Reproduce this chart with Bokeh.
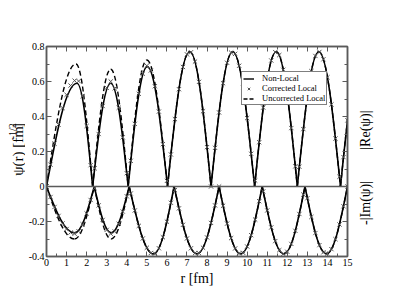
import math
from bokeh.plotting import figure
from bokeh.layouts import row
from bokeh.models import (Range1d, LinearAxis, FixedTicker, Span,
                          Legend, LegendItem, ColumnDataSource)
from bokeh.core.properties import value
from bokeh.embed import file_html
from bokeh.resources import INLINE

# ---------------- data ----------------
x_ticks = list(range(0, 16))
x_tick_labels = [str(i) for i in x_ticks]
x_minor = [i + 0.5 for i in range(15)]
y_ticks = [-0.4, -0.2, 0, 0.2, 0.4, 0.6, 0.8]
y_tick_labels = ["-0.4", "-0.2", "0", "0.2", "0.4", "0.6", "0.8"]
y_minor = [-0.3, -0.1, 0.1, 0.3, 0.5, 0.7]

# |Re(psi)| humps: nodes, peak positions, peak heights
re_nodes = [0.0, 2.30, 4.07, 6.03, 8.20, 10.37, 12.50, 14.65, 16.80]
re_peak_r = [1.52, 3.20, 5.02, 7.14, 9.28, 11.45, 13.57, 15.72]
re_peak_nonlocal = [0.59, 0.59, 0.685, 0.77, 0.77, 0.77, 0.77, 0.77]
re_peak_r_uncorr = [1.47, 3.20, 5.00, 7.14, 9.28, 11.45, 13.57, 15.72]
re_peak_uncorr = [0.70, 0.67, 0.723, 0.77, 0.77, 0.77, 0.77, 0.77]

# -|Im(psi)| humps
im_nodes = [0.0, 2.38, 4.12, 6.36, 8.60, 10.75, 12.88, 15.00]
im_peak_r = [1.40, 3.22, 5.33, 7.50, 9.68, 11.83, 13.95]
im_peak_nonlocal = [0.265, 0.265, 0.385, 0.385, 0.385, 0.385, 0.385]
im_peak_uncorr = [0.30, 0.30, 0.385, 0.385, 0.385, 0.385, 0.385]

# Corrected local (markers)
r_corr = [0.0, 0.2, 0.4, 0.6, 0.8, 1.0, 1.2, 1.4, 1.6, 1.8, 2.0, 2.2, 2.4, 2.6,
          2.8, 3.0, 3.2, 3.4, 3.6, 3.8, 4.0, 4.2, 4.4, 4.6, 4.8, 5.0, 5.2, 5.4,
          5.6, 5.8, 6.0, 6.2, 6.4, 6.6, 6.8, 7.0, 7.2, 7.4, 7.6, 7.8, 8.0, 8.2,
          8.4, 8.6, 8.8, 9.0, 9.2, 9.4, 9.6, 9.8, 10.0, 10.2, 10.4, 10.6, 10.8,
          11.0, 11.2, 11.4, 11.6, 11.8, 12.0, 12.2, 12.4, 12.6, 12.8, 13.0,
          13.2, 13.4, 13.6, 13.8, 14.0, 14.2, 14.4, 14.6, 14.8, 15.0]
re_corr = [0.0, 0.125, 0.245, 0.354, 0.449, 0.524, 0.577, 0.605, 0.602, 0.516,
           0.346, 0.122, 0.104, 0.300, 0.460, 0.564, 0.600, 0.561, 0.450, 0.281,
           0.076, 0.147, 0.358, 0.530, 0.645, 0.690, 0.663, 0.573, 0.428, 0.242,
           0.032, 0.183, 0.385, 0.556, 0.683, 0.755, 0.767, 0.714, 0.598, 0.430,
           0.225, 0.0, 0.221, 0.423, 0.590, 0.707, 0.765, 0.758, 0.690, 0.564,
           0.391, 0.187, 0.034, 0.253, 0.451, 0.611, 0.720, 0.768, 0.751, 0.667,
           0.524, 0.334, 0.115, 0.113, 0.328, 0.516, 0.659, 0.746, 0.769, 0.727,
           0.624, 0.469, 0.274, 0.056, 0.168, 0.378]
im_corr = [0.0, -0.060, -0.117, -0.168, -0.211, -0.243, -0.263, -0.270, -0.256,
           -0.216, -0.154, -0.077, -0.010, -0.108, -0.191, -0.248, -0.270,
           -0.257, -0.213, -0.143, -0.056, -0.040, -0.137, -0.225, -0.297,
           -0.350, -0.380, -0.383, -0.353, -0.290, -0.201, -0.093, -0.021,
           -0.125, -0.219, -0.297, -0.353, -0.381, -0.381, -0.350, -0.291,
           -0.208, -0.108, 0.0, -0.110, -0.212, -0.295, -0.354, -0.382, -0.379,
           -0.343, -0.278, -0.189, -0.084, -0.028, -0.137, -0.234, -0.312,
           -0.364, -0.385, -0.373, -0.328, -0.253, -0.157, -0.046, -0.067,
           -0.174, -0.266, -0.335, -0.376, -0.384, -0.358, -0.301, -0.217,
           -0.113, 0.0]

FONT = "Liberation Serif"
GRAY = "#5a5a5a"

H = 294          # height of the title strips
LEFT_W = 25      # width of the left title strip
RIGHT_W = 48     # width of the right title strip
FRAME_L = 46     # frame left edge in page pixels
FRAME_R = 347    # frame right edge


def hump_source(nodes, peak_r, peak_v, sign):
    """Each hump drawn as two cubic Bezier pieces between its nodes and peak."""
    h = 0.3516
    k = h * math.pi / 2
    d = {n: [] for n in ("x0", "y0", "x1", "y1", "cx0", "cy0", "cx1", "cy1")}
    for i, (pr, pv) in enumerate(zip(peak_r, peak_v)):
        z0, z1 = nodes[i], nodes[i + 1]
        a = sign * pv
        w1 = pr - z0
        w2 = z1 - pr
        for seg in ((z0, 0.0, z0 + h * w1, a * k, pr - h * w1, a, pr, a),
                    (pr, a, pr + h * w2, a, z1 - h * w2, a * k, z1, 0.0)):
            d["x0"].append(seg[0]); d["y0"].append(seg[1])
            d["cx0"].append(seg[2]); d["cy0"].append(seg[3])
            d["cx1"].append(seg[4]); d["cy1"].append(seg[5])
            d["x1"].append(seg[6]); d["y1"].append(seg[7])
    return ColumnDataSource(d)


p = figure(frame_width=FRAME_R - FRAME_L, frame_height=210,
           output_backend="svg", toolbar_location=None,
           x_range=Range1d(0, 15), y_range=Range1d(-0.4, 0.8),
           min_border_left=FRAME_L - LEFT_W, min_border_top=46,
           min_border_right=8, min_border_bottom=38)
p.background_fill_color = "white"
p.border_fill_color = "white"
p.xgrid.visible = False
p.ygrid.visible = False
p.outline_line_color = GRAY
p.outline_line_width = 1.5


def style_axis(ax, ticks, minor, labels, show_labels):
    ax.ticker = FixedTicker(ticks=ticks, minor_ticks=minor)
    ax.axis_line_color = GRAY
    ax.axis_line_width = 1.5
    ax.major_tick_line_color = GRAY
    ax.minor_tick_line_color = GRAY
    ax.major_tick_in = 5
    ax.major_tick_out = 0
    ax.minor_tick_in = 3
    ax.minor_tick_out = 0
    ax.major_tick_line_width = 1
    ax.minor_tick_line_width = 1
    ax.major_label_text_font = FONT
    if show_labels:
        ax.major_label_overrides = {t: l for t, l in zip(ticks, labels)}
        ax.major_label_text_font_size = "10px"
        ax.major_label_text_color = "black"
    else:
        ax.major_label_text_font_size = "0px"
        ax.major_label_text_color = None
        ax.major_label_standoff = 0


style_axis(p.xaxis[0], x_ticks, x_minor, x_tick_labels, True)
style_axis(p.yaxis[0], y_ticks, y_minor, y_tick_labels, True)
p.xaxis[0].major_label_standoff = 2
p.yaxis[0].major_label_standoff = 2
p.xaxis[0].axis_label = "r [fm]"
p.xaxis[0].axis_label_text_font = FONT
p.xaxis[0].axis_label_text_font_size = "14px"
p.xaxis[0].axis_label_text_font_style = "normal"
p.xaxis[0].axis_label_text_color = "black"
p.xaxis[0].axis_label_standoff = 2

top = LinearAxis()
right = LinearAxis()
style_axis(top, x_ticks, x_minor, x_tick_labels, False)
style_axis(right, y_ticks, y_minor, y_tick_labels, False)
p.add_layout(top, "above")
p.add_layout(right, "right")

p.add_layout(Span(location=0, dimension="width", line_color=GRAY,
                  line_width=1.5))

# dashed: uncorrected local
p.bezier(x0="x0", y0="y0", x1="x1", y1="y1", cx0="cx0", cy0="cy0",
         cx1="cx1", cy1="cy1", line_color="black", line_width=1.4,
         line_dash="5 3", source=hump_source(re_nodes, re_peak_r_uncorr,
                                             re_peak_uncorr, 1))
p.bezier(x0="x0", y0="y0", x1="x1", y1="y1", cx0="cx0", cy0="cy0",
         cx1="cx1", cy1="cy1", line_color="black", line_width=1.4,
         line_dash="5 3", source=hump_source(im_nodes, im_peak_r,
                                             im_peak_uncorr, -1))
# solid: non-local
p.bezier(x0="x0", y0="y0", x1="x1", y1="y1", cx0="cx0", cy0="cy0",
         cx1="cx1", cy1="cy1", line_color="black", line_width=1.6,
         source=hump_source(re_nodes, re_peak_r, re_peak_nonlocal, 1))
p.bezier(x0="x0", y0="y0", x1="x1", y1="y1", cx0="cx0", cy0="cy0",
         cx1="cx1", cy1="cy1", line_color="black", line_width=1.6,
         source=hump_source(im_nodes, im_peak_r, im_peak_nonlocal, -1))
# markers: corrected local
mk = p.scatter(r_corr, re_corr, marker="x", size=6, line_color="#555555",
               line_width=1)
p.scatter(r_corr, im_corr, marker="x", size=6, line_color="#555555",
          line_width=1)

# legend proxies (a single NaN point: nothing drawn in the plot)
nan = float("nan")
l_solid = p.line([nan], [nan], line_color="black", line_width=1.4)
l_dash = p.line([nan], [nan], line_color="black", line_width=1.4,
                line_dash="4 2")

legend = Legend(items=[LegendItem(label="Non-Local", renderers=[l_solid]),
                       LegendItem(label="Corrected Local", renderers=[mk]),
                       LegendItem(label="Uncorrected Local", renderers=[l_dash])],
                location=(195, 151), orientation="vertical")
legend.label_text_font = FONT
legend.label_text_font_size = "8.5px"
legend.label_text_color = "black"
legend.label_height = 9
legend.glyph_height = 9
legend.glyph_width = 11
legend.label_standoff = 8
legend.padding = 1
legend.spacing = 0
legend.margin = 0
legend.border_line_color = "black"
legend.border_line_width = 1
legend.background_fill_color = "white"
legend.background_fill_alpha = 1
p.add_layout(legend)


def strip(width):
    f = figure(width=width, height=H, output_backend="svg",
               toolbar_location=None, x_range=Range1d(0, width),
               y_range=Range1d(0, H), x_axis_type=None, y_axis_type=None,
               min_border=0)
    f.outline_line_color = None
    f.xgrid.visible = False
    f.ygrid.visible = False
    f.background_fill_color = "white"
    f.border_fill_color = "white"
    return f


rot = math.pi / 2
# left strip: y-axis title psi(r) [fm^-1/2], rotated (reads bottom to top)
lf = strip(LEFT_W)
lf.text(x=[17], y=[H - 181], text=["ψ(r) [fm"], angle=rot,
        text_font=value(FONT), text_font_size="15px", text_align="left",
        text_baseline="middle", text_color="black")
lf.text(x=[12], y=[H - 130], text=["-1/2"], angle=rot,
        text_font=value(FONT), text_font_size="10px", text_align="left",
        text_baseline="middle", text_color="black")
lf.text(x=[17], y=[H - 114], text=["]"], angle=rot,
        text_font=value(FONT), text_font_size="15px", text_align="left",
        text_baseline="middle", text_color="black")

# right strip: |Re(psi)| and -|Im(psi)|
rf = strip(RIGHT_W)
rx = 365 - (FRAME_R + 8)
rf.text(x=[rx, rx], y=[H - 117, H - 219], text=["|Re(ψ)|", "-|Im(ψ)|"],
        angle=rot, text_font=value(FONT), text_font_size="14px",
        text_align="center", text_baseline="middle", text_color="black")

layout = row(lf, p, rf, spacing=0)
open("out.html", "w").write(file_html(layout, INLINE))
